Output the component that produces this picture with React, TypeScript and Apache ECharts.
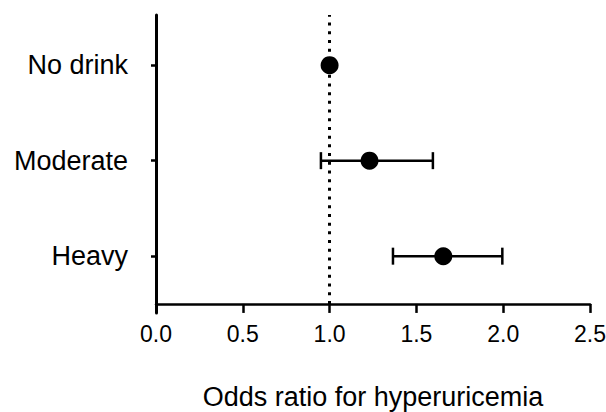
import React, { useEffect, useRef } from "react";
import * as echarts from "echarts";

const categories = ["No drink", "Moderate", "Heavy"];
const oddsRatio = [1.0, 1.23, 1.655];
const ciLower: (number | null)[] = [null, 0.95, 1.365];
const ciUpper: (number | null)[] = [null, 1.595, 1.995];
const xTicks = [0, 0.5, 1, 1.5, 2, 2.5];
const xAxisTitle = "Odds ratio for hyperuricemia";
const referenceValue = 1.0;

const FONT = "'Liberation Sans', Arial, sans-serif";

export default function App() {
  const ref = useRef<HTMLDivElement>(null);
  useEffect(() => {
    if (!ref.current) return;
    const chart = echarts.init(ref.current, undefined, { renderer: "svg" });
    const rowPos = (i: number) => (categories.length - 1 - i) * 2 + 1;
    const posToName: Record<number, string> = {};
    categories.forEach((c, i) => (posToName[rowPos(i)] = c));
    const yPositions = categories.map((_, i) => rowPos(i));

    const points = categories.map((_, i) => [oddsRatio[i], rowPos(i)]);
    const bars = categories
      .map((_, i) => [ciLower[i], ciUpper[i], rowPos(i)])
      .filter((d) => d[0] != null && d[1] != null);

    chart.setOption({
      animation: false,
      grid: {
        left: 156,
        right: 16,
        top: 15,
        bottom: 99,
        containLabel: false,
        outerBoundsMode: "none",
      },
      xAxis: {
        type: "value",
        min: xTicks[0],
        max: xTicks[xTicks.length - 1],
        interval: 0.5,
        name: xAxisTitle,
        nameLocation: "middle",
        nameGap: 70,
        nameTextStyle: { fontFamily: FONT, fontSize: 27, color: "#000" },
        axisLine: { onZero: true, lineStyle: { color: "#000", width: 2.5 } },
        axisTick: { show: true, length: 9, lineStyle: { color: "#000", width: 2.5 } },
        axisLabel: {
          fontFamily: FONT,
          fontSize: 23,
          color: "#000",
          margin: 9,
          formatter: (v: number) => v.toFixed(1),
        },
        splitLine: { show: false },
      },
      yAxis: {
        type: "value",
        min: -0.19,
        max: 6.05,
        axisLine: { show: true, onZero: true, lineStyle: { color: "#000", width: 3 } },
        axisTick: {
          show: true,
          length: 5,
          customValues: yPositions,
          lineStyle: { color: "#000", width: 2.5 },
        },
        axisLabel: {
          fontFamily: FONT,
          fontSize: 27,
          color: "#000",
          margin: 28,
          customValues: yPositions,
          formatter: (v: number) => posToName[Math.round(v)] ?? "",
        },
        splitLine: { show: false },
      },
      series: [
        {
          type: "custom",
          data: bars,
          encode: { x: [0, 1], y: 2 },
          z: 2,
          renderItem: (params: any, api: any) => {
            const lo = api.value(0);
            const hi = api.value(1);
            const y = api.value(2);
            const p1 = api.coord([lo, y]);
            const p2 = api.coord([hi, y]);
            const h = 8.5;
            const st = { stroke: "#000", lineWidth: 2.5 };
            return {
              type: "group",
              children: [
                { type: "line", shape: { x1: p1[0], y1: p1[1], x2: p2[0], y2: p2[1] }, style: st },
                { type: "line", shape: { x1: p1[0], y1: p1[1] - h, x2: p1[0], y2: p1[1] + h }, style: st },
                { type: "line", shape: { x1: p2[0], y1: p2[1] - h, x2: p2[0], y2: p2[1] + h }, style: st },
              ],
            };
          },
        },
        {
          type: "scatter",
          data: points,
          symbol: "circle",
          symbolSize: 18,
          itemStyle: { color: "#000", opacity: 1 },
          z: 3,
          markLine: {
            silent: true,
            symbol: "none",
            label: { show: false },
            lineStyle: { color: "#000", width: 3, type: [3, 5.7], opacity: 1 },
            data: [
              [
                { coord: [referenceValue, 0] },
                { coord: [referenceValue, 6.05] },
              ],
            ],
          },
        },
      ],
    });
    return () => chart.dispose();
  }, []);
  return (
    <div
      ref={ref}
      style={{ position: "fixed", left: 0, top: 0, width: 606, height: 412, background: "#fff" }}
    />
  );
}
